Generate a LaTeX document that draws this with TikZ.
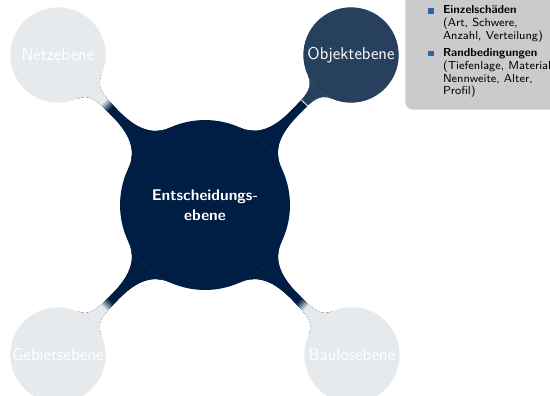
\documentclass[tikz,border=0pt]{standalone}
\usepackage{fontspec}
\usetikzlibrary{mindmap,backgrounds}
\definecolor{cNavy}{HTML}{001E44}
\definecolor{cObj}{HTML}{27405E}
\definecolor{cLight}{HTML}{E7EAED}
\definecolor{cBox}{HTML}{CBCBCB}
\definecolor{cBullet}{HTML}{2E64A8}
\begin{document}
\begin{tikzpicture}[x=0.671pt,y=-0.671pt,
  rootc/.style={circle, fill=cNavy, draw=cNavy, line width=0.7pt, text=white, minimum size=113.3pt, inner sep=0pt,
    align=center, font=\sffamily\bfseries\fontsize{10.4}{13.2}\selectfont},
  childc/.style={circle, minimum size=63.3pt, inner sep=0pt, align=center, line width=0.7pt,
    text=white, font=\sffamily\fontsize{11.5}{14}\selectfont},
  notebox/.style={fill=cBox, rounded corners=5pt, inner sep=0pt,
    minimum width=110pt, minimum height=80pt, anchor=north west},
  notetext/.style={inner sep=0pt, anchor=north west, align=left,
    font=\sffamily\fontsize{7.8}{8.45}\selectfont},
  bulletsq/.style={fill=cBullet, inner sep=0pt, minimum size=4pt},
  solidbar/.style={circle connection bar switch color=from (#1) to (#1)}
]
\useasboundingbox (0,0) rectangle (550,395);
% concepts
\node[rootc] (root) at (205,205) {Entscheidungs-\\ebene};
\node[childc, fill=cLight, draw=cLight] (netz) at (58,55) {Netzebene};
\node[childc, fill=cObj, draw=cObj] (obj) at (351,55) {Objektebene};
\node[childc, fill=cLight, draw=cLight] (geb) at (58,355) {Gebietsebene};
\node[childc, fill=cLight, draw=cLight] (bau) at (352,355) {Baulosebene};
% connections
\begin{scope}[mindmap, on background layer]
  \foreach \c in {netz,geb,bau}{
    \path (root) to[solidbar=cNavy] (\c);
    \path (root) to[solidbar=cNavy] (\c);
    \foreach \r/\p in {75.5/5,74.5/15,73.5/25,72.5/35,71.5/45,70.5/55,69.5/65,68.5/75,67.5/85,66.5/95,65.8/100}{
      \begin{scope}
        \clip (\c.center) circle[radius={\r*0.671pt}];
        \colorlet{tmpc}{cLight!\p!cNavy}
        \path (root) to[solidbar=tmpc] (\c);
      \end{scope}
    }
  }
  \path (root) to[solidbar=cNavy] (obj);
  \path (root) to[solidbar=cNavy] (obj);
  \begin{scope}
    \clip (obj.center) circle[radius={67.2*0.671pt}];
    \path (root) to[solidbar=white] (obj);
  \end{scope}
  \begin{scope}
    \clip (obj.center) circle[radius={66.2*0.671pt}];
    \path (root) to[solidbar=cObj] (obj);
  \end{scope}
\end{scope}
% annotation
\node[notebox] (box) at (405,-10) {};
\node[bulletsq] (b1) at (431,10.7) {};
\node[notetext] (t1) at (442.7,5.5) {\textbf{Einzelschäden}\\(Art, Schwere,\\Anzahl, Verteilung)};
\node[bulletsq] (b2) at (431,53.5) {};
\node[notetext] (t2) at (442.7,48.5) {\textbf{Randbedingungen}\\(Tiefenlage, Material\\Nennweite, Alter,\\Profil)};
\end{tikzpicture}
\end{document}
